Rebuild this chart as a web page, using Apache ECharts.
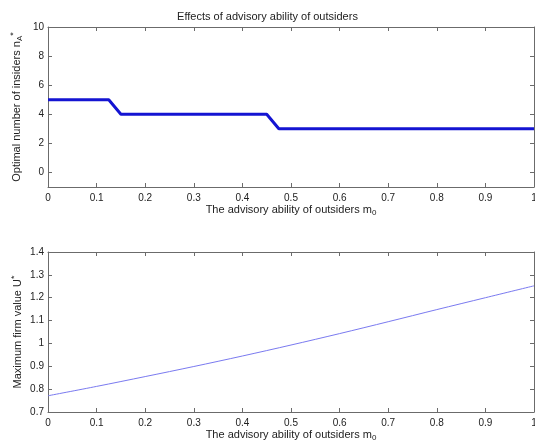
<!DOCTYPE html>
<html>
<head>
<meta charset="utf-8">
<script src="https://cdn.jsdelivr.net/npm/echarts@6/dist/echarts.min.js"></script>
<style>
html,body{margin:0;padding:0;background:#fff;}
#c{width:535px;height:443px;}
</style>
</head>
<body>
<div id="c"></div>
<script>
// ---- data ----
const titleText = 'Effects of advisory ability of outsiders';
const xTickValues = [0, 0.1, 0.2, 0.3, 0.4, 0.5, 0.6, 0.7, 0.8, 0.9, 1];
const stepX = [0, 0.125, 0.15, 0.45, 0.475, 1];
const stepN = [5, 5, 4, 4, 3, 3];
const valueX = [0, 0.1, 0.2, 0.3, 0.4, 0.5, 0.6, 0.7, 0.8, 0.9, 1];
const valueU = [0.771, 0.812, 0.855, 0.899, 0.945, 0.993, 1.043, 1.095, 1.148, 1.200, 1.252];
const nTicks = [0, 2, 4, 6, 8, 10];
const uTicks = [0.7, 0.8, 0.9, 1.0, 1.1, 1.2, 1.3, 1.4];

const FONT = 'Liberation Sans';
const TXT = '#222';
const AX = '#6b6b6b';

function xAxisBottom(gridIndex) {
  return {
    type: 'value', gridIndex, min: 0, max: 1, position: 'bottom',
    name: '{t|The advisory ability of outsiders m}{s|0}',
    nameLocation: 'middle', nameGap: 17, nameMoveOverlap: false,
    nameTextStyle: {
      rich: {
        t: { fontFamily: FONT, fontSize: 11, color: TXT, verticalAlign: 'top', lineHeight: 13 },
        s: { fontFamily: FONT, fontSize: 8, color: TXT, verticalAlign: 'bottom', lineHeight: 13, padding: [5, 0, 0, 0] }
      }
    },
    axisLine: { show: true, onZero: false, lineStyle: { color: AX, width: 1 } },
    axisTick: { show: true, inside: true, length: 4, customValues: xTickValues, lineStyle: { color: AX } },
    axisLabel: { show: true, customValues: xTickValues, margin: 6, fontFamily: FONT, fontSize: 10, color: TXT },
    splitLine: { show: false }
  };
}
function xAxisTop(gridIndex) {
  return {
    type: 'value', gridIndex, min: 0, max: 1, position: 'top',
    axisLine: { show: true, onZero: false, lineStyle: { color: AX, width: 1 } },
    axisTick: { show: true, inside: true, length: 4, customValues: xTickValues, lineStyle: { color: AX } },
    axisLabel: { show: false },
    splitLine: { show: false }
  };
}
function yAxisLeft(gridIndex, min, max, ticks, name, gap) {
  return {
    type: 'value', gridIndex, min, max, position: 'left',
    name, nameLocation: 'middle', nameGap: gap, nameRotate: 90, nameMoveOverlap: false,
    nameTextStyle: {
      rich: {
        t: { fontFamily: FONT, fontSize: 11, color: TXT, lineHeight: 15 },
        sub: { fontFamily: FONT, fontSize: 8, color: TXT, verticalAlign: 'bottom', lineHeight: 15, padding: [6, 0, 0, 0] },
        sup: { fontFamily: FONT, fontSize: 9, color: TXT, verticalAlign: 'top', lineHeight: 15 }
      }
    },
    axisLine: { show: true, onZero: false, lineStyle: { color: AX, width: 1 } },
    axisTick: { show: true, inside: true, length: 4, customValues: ticks, lineStyle: { color: AX } },
    axisLabel: { show: true, customValues: ticks, margin: 4, fontFamily: FONT, fontSize: 10, color: TXT },
    splitLine: { show: false }
  };
}
function yAxisRight(gridIndex, min, max, ticks) {
  return {
    type: 'value', gridIndex, min, max, position: 'right',
    axisLine: { show: true, onZero: false, lineStyle: { color: AX, width: 1 } },
    axisTick: { show: true, inside: true, length: 4, customValues: ticks, lineStyle: { color: AX } },
    axisLabel: { show: false },
    splitLine: { show: false }
  };
}

const chart = echarts.init(document.getElementById('c'), null, { renderer: 'canvas' });
chart.setOption({
  backgroundColor: '#fff',
  animation: false,
  title: {
    text: titleText, left: 'center', top: 6,
    textStyle: { fontFamily: FONT, fontSize: 11, fontWeight: 'normal', color: TXT }
  },
  grid: [
    { left: 48, right: 1, top: 27, height: 160, containLabel: false, outerBoundsMode: 'none' },
    { left: 48, right: 1, top: 252, height: 160, containLabel: false, outerBoundsMode: 'none' }
  ],
  xAxis: [xAxisBottom(0), xAxisTop(0), xAxisBottom(1), xAxisTop(1)],
  yAxis: [
    yAxisLeft(0, -1, 10, nTicks, '{t|Optimal number of insiders n}{sub|A}{sup|*}', 24),
    yAxisRight(0, -1, 10, nTicks),
    yAxisLeft(1, 0.7, 1.4, uTicks, '{t|Maximum firm value U}{sup|*}', 23),
    yAxisRight(1, 0.7, 1.4, uTicks)
  ],
  series: [
    {
      type: 'line', xAxisIndex: 0, yAxisIndex: 0,
      data: stepX.map((x, i) => [x, stepN[i]]),
      showSymbol: false, symbol: 'none',
      lineStyle: { color: '#1414d2', width: 3 }
    },
    {
      type: 'line', xAxisIndex: 2, yAxisIndex: 2,
      data: valueX.map((x, i) => [x, valueU[i]]),
      showSymbol: false, symbol: 'none', smooth: 0.3,
      lineStyle: { color: '#7a7af0', width: 1 }
    }
  ]
});
</script>
</body>
</html>
